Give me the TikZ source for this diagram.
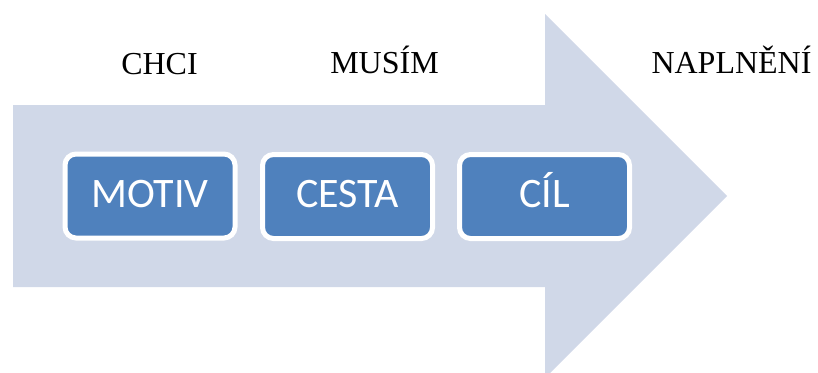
\documentclass[tikz,border=0pt]{standalone}
\usepackage{fontspec}
\setmainfont{Liberation Serif}
\newfontfamily\boxfont{Carlito}
\definecolor{arrowfill}{HTML}{D0D8E8}
\definecolor{boxfill}{HTML}{4F81BD}

\begin{document}
\begin{tikzpicture}[x=1pt,y=-1pt]
\tikzstyle{stage}=[draw=white, line width=5pt, fill=boxfill, rounded corners=11pt,
  minimum width=170pt, minimum height=84pt, inner sep=0pt,
  text height=30pt, text depth=8pt,
  text=white, font=\boxfont\fontsize{42}{48}\selectfont]
\tikzstyle{label}=[inner sep=0pt, anchor=base, font=\fontsize{32}{38}\selectfont]
\useasboundingbox (0,0) rectangle (818,372);
\fill [arrowfill] (13,105) -- (545,105) -- (545,14) -- (727,196) -- (545,378)
  -- (545,287) -- (13,287) -- cycle;
\node [stage] (motiv) at (150,196) {MOTIV};
\node [stage] (cesta) at (347.5,196.5) {CESTA};
\node [stage] (cil) at (544.5,196.5) {CÍL};
\node [label] (chci) at (159.5,74) {CHCI};
\node [label] (musim) at (384.5,73) {MUSÍM};
\node [label] (naplneni) at (731.5,73) {NAPLNĚNÍ};
\end{tikzpicture}
\end{document}
